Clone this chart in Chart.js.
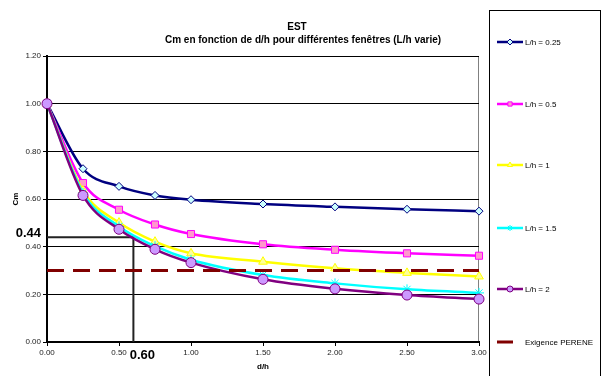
<!DOCTYPE html>
<html>
<head>
<meta charset="utf-8">
<script src="https://cdn.jsdelivr.net/npm/chart.js@4.4.0/dist/chart.umd.min.js"></script>
<style>
  body { margin: 0; background: #fff; }
  canvas { display: block; }
</style>
</head>
<body>
<canvas id="myChart" width="603" height="376"></canvas>
<script>
// d/h values (x axis)
const dh = [0, 0.25, 0.5, 0.75, 1, 1.5, 2, 2.5, 3];

// Cm for each L/h
const lh025 = [1.00, 0.727, 0.653, 0.615, 0.597, 0.579, 0.567, 0.557, 0.549];
const lh05  = [1.00, 0.667, 0.555, 0.493, 0.453, 0.410, 0.387, 0.372, 0.362];
const lh1   = [1.00, 0.635, 0.501, 0.421, 0.372, 0.337, 0.309, 0.290, 0.275];
const lh15  = [1.00, 0.625, 0.485, 0.402, 0.345, 0.281, 0.246, 0.221, 0.206];
const lh2   = [1.00, 0.615, 0.473, 0.389, 0.333, 0.263, 0.223, 0.197, 0.180];

const seriesNames = ['L/h = 0.25', 'L/h = 0.5', 'L/h = 1', 'L/h = 1.5', 'L/h = 2'];
const pereneName = 'Exigence PERENE';
const perene = 0.30;

// reading on the graph
const readX = 0.60;
const readY = 0.44;

const FONT = '"Liberation Sans", Arial, sans-serif';

function pts(arr) {
  return dh.map((x, i) => ({ x: x, y: arr[i] }));
}

function serie(label, arr, line, fill, style, radius, order) {
  return {
    label: label,
    data: pts(arr),
    borderColor: line,
    borderWidth: 2.5,
    backgroundColor: fill,
    pointStyle: style,
    pointRadius: radius,
    pointBorderColor: line,
    pointBackgroundColor: fill,
    pointBorderWidth: 1,
    cubicInterpolationMode: 'monotone',
    clip: 10,
    order: order
  };
}

const datasets = [
  serie(seriesNames[0], lh025, '#000080', '#ccffff', 'rectRot', 4, 6),
  serie(seriesNames[1], lh05, '#ff00ff', '#ff99cc', 'rect', 5, 5),
  serie(seriesNames[2], lh1, '#ffff00', '#ffff99', 'triangle', 5, 4),
  serie(seriesNames[3], lh15, '#00ffff', '#ccffff', 'star', 5, 3),
  serie(seriesNames[4], lh2, '#800080', '#cc99ff', 'circle', 5, 2),
  {
    label: pereneName,
    data: [{ x: dh[0], y: perene }, { x: dh[dh.length - 1], y: perene }],
    borderColor: '#800000',
    borderWidth: 3,
    borderDash: [17, 9],
    pointRadius: 0,
    order: 1
  },
  {
    label: '',
    data: [{ x: 0, y: readY }, { x: readX, y: readY }, { x: readX, y: 0 }],
    borderColor: '#222',
    borderWidth: 2,
    pointRadius: 0,
    tension: 0,
    order: 7
  }
];

const legendRows = [42, 104, 165, 228, 289, 342];

const decor = {
  id: 'decor',
  beforeDraw(chart) {
    const ctx = chart.ctx;
    ctx.save();
    ctx.fillStyle = '#fff';
    ctx.fillRect(0, 0, chart.width, chart.height);
    const a = chart.chartArea;
    ctx.strokeStyle = '#808080';
    ctx.lineWidth = 1;
    ctx.beginPath();
    ctx.moveTo(a.left, a.top + 0.5);
    ctx.lineTo(a.right - 0.5, a.top + 0.5);
    ctx.lineTo(a.right - 0.5, a.bottom);
    ctx.stroke();
    ctx.restore();
  },
  afterDraw(chart) {
    const ctx = chart.ctx;
    const xs = chart.scales.x, ys = chart.scales.y;
    ctx.save();
    ctx.fillStyle = '#000';
    ctx.textAlign = 'center';
    ctx.textBaseline = 'middle';
    ctx.font = 'bold 10px ' + FONT;
    ctx.fillText('EST', 297, 27);
    ctx.fillText('Cm en fonction de d/h pour différentes fenêtres (L/h varie)', 303, 40);

    ctx.font = 'bold 8px ' + FONT;
    ctx.fillText('d/h', (xs.left + xs.right) / 2, 367);
    ctx.save();
    ctx.translate(16, (ys.top + ys.bottom) / 2);
    ctx.rotate(-Math.PI / 2);
    ctx.fillText('Cm', 0, 0);
    ctx.restore();

    // reading labels
    ctx.font = 'bold 13px ' + FONT;
    ctx.textAlign = 'right';
    ctx.fillText(readY.toFixed(2), 41, ys.getPixelForValue(readY) - 4);
    ctx.textAlign = 'center';
    ctx.fillText(readX.toFixed(2), xs.getPixelForValue(readX) + 9, 355);

    // legend box
    ctx.strokeStyle = '#000';
    ctx.lineWidth = 1;
    ctx.strokeRect(489.5, 10.5, 111, 380);
    ctx.font = '8px ' + FONT;
    ctx.textAlign = 'left';
    chart.data.datasets.forEach((ds, i) => {
      if (!ds.label) return;
      const y = legendRows[i];
      ctx.strokeStyle = ds.borderColor;
      ctx.setLineDash([]);
      if (ds.pointRadius) {
        ctx.lineWidth = 2.5;
        ctx.beginPath();
        ctx.moveTo(497, y);
        ctx.lineTo(523, y);
        ctx.stroke();
        ctx.lineWidth = 1;
        ctx.fillStyle = ds.pointBackgroundColor;
        ctx.strokeStyle = ds.pointBorderColor;
        Chart.helpers.drawPoint(ctx, {
          pointStyle: ds.pointStyle, radius: 3, rotation: 0, borderWidth: 1
        }, 510, y);
      } else {
        ctx.lineWidth = 3;
        ctx.beginPath();
        ctx.moveTo(497, y);
        ctx.lineTo(513, y);
        ctx.stroke();
      }
      ctx.fillStyle = '#000';
      ctx.fillText(ds.label, 525, y + 0.5);
    });
    ctx.restore();
  }
};

new Chart('myChart', {
  type: 'line',
  data: { datasets: datasets },
  options: {
    responsive: false,
    devicePixelRatio: 1,
    animation: false,
    layout: { padding: { top: 56, right: 124, left: 0, bottom: 0 } },
    plugins: {
      legend: { display: false },
      title: { display: false },
      tooltip: { enabled: false }
    },
    scales: {
      x: {
        type: 'linear',
        min: 0,
        max: 3,
        afterFit(s) { s.height = 34; },
        ticks: {
          stepSize: 0.5,
          padding: 2,
          color: '#222',
          font: { size: 8, family: FONT },
          maxRotation: 0,
          callback: v => v.toFixed(2)
        },
        grid: { drawOnChartArea: false, drawTicks: true, tickLength: 4, color: '#000' },
        border: { color: '#000', width: 2 }
      },
      y: {
        min: 0,
        max: 1.2,
        afterFit(s) { s.width = 47; },
        ticks: {
          stepSize: 0.2,
          padding: 2,
          color: '#222',
          font: { size: 8, family: FONT },
          callback: v => v.toFixed(2)
        },
        grid: { color: '#000', lineWidth: 1, drawTicks: true, tickLength: 4 },
        border: { color: '#000', width: 2 }
      }
    }
  },
  plugins: [decor]
});
</script>
</body>
</html>
